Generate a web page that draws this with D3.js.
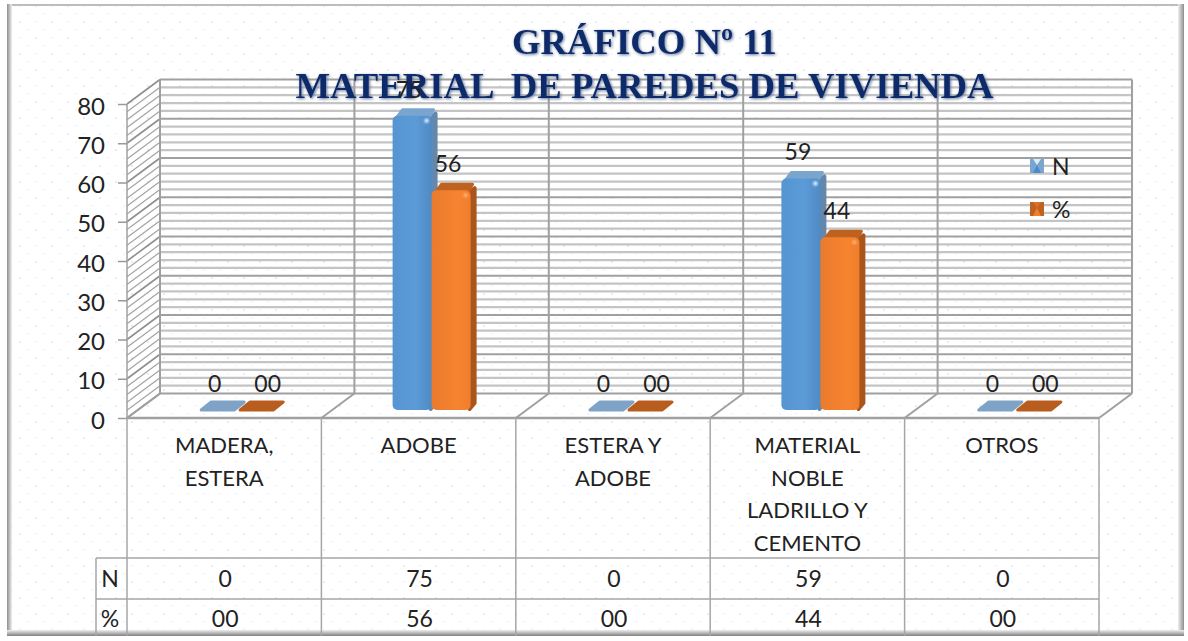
<!DOCTYPE html>
<html>
<head>
<meta charset="utf-8">
<title>Material de paredes de vivienda</title>
<script src="https://cdn.jsdelivr.net/npm/d3@7"></script>
<style>
    html, body { margin: 0; padding: 0; background: #fff; overflow: hidden; }
    text { font-family: Lato, "Open Sans", sans-serif; fill: #222; }
    .title { font-family: "Liberation Serif", serif; font-weight: bold; font-size: 36.7px; fill: #0d2a6b; }
</style>
</head>
<body>
<div id="chart"></div>
<script>
const categories = [['MADERA,', 'ESTERA'], ['ADOBE'], ['ESTERA Y', 'ADOBE'], ['MATERIAL', 'NOBLE', 'LADRILLO Y', 'CEMENTO'], ['OTROS']];
const seriesNames = ['N', '%'];
const nValues = [0, 75, 0, 59, 0];
const pctValues = [0, 56, 0, 44, 0];
const nLabels = ['0', '75', '0', '59', '0'];
const pctLabels = ['00', '56', '00', '44', '00'];
const titleLines = ['GRÁFICO Nº 11', 'MATERIAL  DE PAREDES DE VIVIENDA'];

const width = 1188, height = 641;
const svg = d3.select('#chart').append('svg').attr('width', width).attr('height', height);
const defs = svg.append('defs');

// dotted paper background
const pat = defs.append('pattern').attr('id', 'paper').attr('width', 32).attr('height', 32)
    .attr('patternUnits', 'userSpaceOnUse');
pat.append('rect').attr('width', 32).attr('height', 32).attr('fill', '#fff');
[[4, 6, 1.1], [20, 6, 0.7], [12, 14, 0.7], [28, 14, 0.7], [4, 22, 0.7], [20, 22, 1.1], [12, 30, 0.7], [28, 30, 0.7]].forEach(d => {
    pat.append('circle').attr('cx', d[0]).attr('cy', d[1]).attr('r', d[2]).attr('fill', '#dfe8f6');
});

function gradient(id, stops, x2, y2) {
    const g = defs.append('linearGradient').attr('id', id)
        .attr('x1', 0).attr('y1', 0).attr('x2', x2).attr('y2', y2);
    stops.forEach(s => g.append('stop').attr('offset', s[0]).attr('stop-color', s[1]));
}
gradient('blueFront', [[0, '#5596d2'], [0.6, '#5b9bd8'], [1, '#4f8ac4']], 1, 0);
gradient('orangeFront', [[0, '#ea7a2e'], [0.7, '#f6842f'], [1, '#ef7d2c']], 1, 0);
gradient('edgeV', [[0, '#8e8e8e'], [1, '#efefef']], 1, 0);
gradient('edgeVr', [[0, '#efefef'], [1, '#8e8e8e']], 1, 0);
gradient('edgeH', [[0, '#efefef'], [1, '#808080']], 0, 1);

const shadow = defs.append('filter').attr('id', 'titleShadow')
    .attr('x', '-5%').attr('y', '-20%').attr('width', '110%').attr('height', '140%');
shadow.append('feDropShadow').attr('dx', 1).attr('dy', 1).attr('stdDeviation', 1.6)
    .attr('flood-color', '#5f7396');
const soft = defs.append('filter').attr('id', 'soft').attr('x', '-100%').attr('y', '-100%').attr('width', '300%').attr('height', '300%');
soft.append('feGaussianBlur').attr('stdDeviation', 0.9);

const palette = {
    N: { front: 'url(#blueFront)', side: '#6488ad', top: '#79a5cf', flat: '#7ea3c6', shine: '#e4f3ff' },
    '%': { front: 'url(#orangeFront)', side: '#a9561d', top: '#c0621f', flat: '#b95d1f', shine: '#ffb070' }
};

// frame
svg.append('rect').attr('x', 8).attr('y', 5).attr('width', 1174).attr('height', 629).attr('fill', 'url(#paper)');
svg.append('rect').attr('x', 7).attr('y', 4).attr('width', 1176).attr('height', 2).attr('fill', '#bcbcbc');
svg.append('rect').attr('x', 7).attr('y', 4).attr('width', 5).attr('height', 632).attr('fill', 'url(#edgeV)');
svg.append('rect').attr('x', 1178).attr('y', 4).attr('width', 6).attr('height', 632).attr('fill', 'url(#edgeVr)');
svg.append('rect').attr('x', 7).attr('y', 630).attr('width', 1177).attr('height', 6).attr('fill', 'url(#edgeH)');

// scales: front plane of the floor and back wall
const x = d3.scaleBand().domain(d3.range(categories.length)).range([127, 1099]);
const y = d3.scaleLinear().domain([0, 80]).range([418, 104]);
const depthX = 33, depthY = 24.5;
const backY = v => y(v) - depthY;
const backX = v => v + depthX;
const barX = d3.scaleBand().domain(seriesNames).range([-39, 39]);
const barShift = 13, barLift = 8;

const major = y.ticks(8);
const minor = d3.range(0, 81, 2).filter(v => v % 10 !== 0);
const edges = d3.range(categories.length + 1).map(i => i === categories.length ? x.range()[1] : x(i));
const grid = svg.append('g').attr('fill', 'none');

// left wall + back wall gridlines
grid.selectAll('.wall-minor').data(minor).join('line')
    .attr('x1', x.range()[0]).attr('x2', backX(x.range()[0]))
    .attr('y1', d => y(d)).attr('y2', d => backY(d))
    .attr('stroke', '#a4a4a4').attr('stroke-width', 1.2);
grid.selectAll('.back-minor').data(minor).join('line')
    .attr('x1', backX(x.range()[0])).attr('x2', backX(x.range()[1]))
    .attr('y1', d => backY(d)).attr('y2', d => backY(d))
    .attr('stroke', '#c4c4c4').attr('stroke-width', 2.2);
grid.selectAll('.wall-major').data(major).join('line')
    .attr('x1', x.range()[0]).attr('x2', backX(x.range()[0]))
    .attr('y1', d => y(d)).attr('y2', d => backY(d))
    .attr('stroke', '#8f8f8f').attr('stroke-width', 1.6);
grid.selectAll('.back-major').data(major).join('line')
    .attr('x1', backX(x.range()[0])).attr('x2', backX(x.range()[1]))
    .attr('y1', d => backY(d)).attr('y2', d => backY(d))
    .attr('stroke', '#a0a0a0').attr('stroke-width', 2);

// dividers on back wall and floor
grid.selectAll('.back-div').data(edges).join('line')
    .attr('x1', d => backX(d)).attr('x2', d => backX(d))
    .attr('y1', backY(80)).attr('y2', backY(0))
    .attr('stroke', '#a0a0a0').attr('stroke-width', 2);
grid.selectAll('.floor-div').data(edges).join('line')
    .attr('x1', d => d).attr('x2', d => backX(d))
    .attr('y1', y(0)).attr('y2', backY(0))
    .attr('stroke', '#a0a0a0').attr('stroke-width', 2);
grid.append('line').attr('x1', x.range()[0]).attr('x2', x.range()[1]).attr('y1', y(0)).attr('y2', y(0))
    .attr('stroke', '#a0a0a0').attr('stroke-width', 2.5);
grid.append('line').attr('x1', x.range()[0]).attr('x2', x.range()[0]).attr('y1', y(0)).attr('y2', y(80))
    .attr('stroke', '#a0a0a0').attr('stroke-width', 1.5);

// y axis
const axis = svg.append('g').attr('transform', 'translate(' + x.range()[0] + ',0)')
    .call(d3.axisLeft(y).tickValues(major).tickSize(9).tickPadding(13));
axis.select('.domain').remove();
axis.selectAll('line').attr('stroke', '#999').attr('stroke-width', 1.5);
axis.selectAll('text').style('font-family', 'Lato, sans-serif').style('font-size', '24px').attr('fill', '#222')
    .attr('dy', '0.42em');

// bars
const rows = [
    { name: 'N', values: nValues, labels: nLabels },
    { name: '%', values: pctValues, labels: pctLabels }
];
const bars = svg.append('g');
rows.forEach(row => {
    const c = palette[row.name];
    row.values.forEach((v, i) => {
        const left = x(i) + x.bandwidth() / 2 + barShift + barX(row.name);
        const w = barX.bandwidth();
        const base = y(0) - barLift;
        const top = y(v) - barLift;
        if (v === 0) {
            // flat plate for empty categories
            const d = d3.path();
            d.moveTo(left + 3, base);
            d.lineTo(left + w - 3, base);
            d.lineTo(left + w + 7, base - 8);
            d.lineTo(left + 13, base - 8);
            d.closePath();
            bars.append('path').attr('d', d.toString()).attr('fill', c.flat)
                .attr('stroke', c.flat).attr('stroke-width', 3).attr('stroke-linejoin', 'round');
            return;
        }
        const dx = 6, dy = 6;
        const side = d3.path();
        side.moveTo(left + w - 1, top + 2);
        side.lineTo(left + w + dx - 2, top - dy + 4);
        side.lineTo(left + w + dx - 2, base - dy - 1);
        side.lineTo(left + w - 1, base - 1);
        side.closePath();
        bars.append('path').attr('d', side.toString()).attr('fill', c.side)
            .attr('stroke', c.side).attr('stroke-width', 4).attr('stroke-linejoin', 'round');
        const cap = d3.path();
        cap.moveTo(left + 4, top + 2);
        cap.lineTo(left + dx + 4, top - dy);
        cap.lineTo(left + w + dx - 4, top - dy);
        cap.lineTo(left + w - 3, top + 2);
        cap.closePath();
        bars.append('path').attr('d', cap.toString()).attr('fill', c.top)
            .attr('stroke', c.top).attr('stroke-width', 3).attr('stroke-linejoin', 'round');
        bars.append('rect').attr('x', left).attr('y', top).attr('width', w).attr('height', base - top)
            .attr('rx', 5).attr('fill', c.front);
        bars.append('circle').attr('cx', left + w - 5).attr('cy', top + 5).attr('r', 2.2)
            .attr('fill', c.shine).attr('filter', 'url(#soft)');
    });
});

// title
svg.append('g').attr('filter', 'url(#titleShadow)').selectAll('text').data(titleLines).join('text')
    .attr('class', 'title')
    .attr('x', 644.5).attr('y', (d, i) => 54 + i * 44)
    .attr('text-anchor', 'middle')
    .style('white-space', 'pre')
    .text(d => d);

// value labels above bars
rows.forEach(row => {
    svg.append('g').selectAll('text').data(row.labels).join('text')
        .attr('x', (d, i) => {
            const mid = x(i) + x.bandwidth() / 2 + barShift + barX(row.name) + barX.bandwidth() / 2;
            if (row.name === '%' && row.values[i] === 0) return mid + 11;
            return mid - 3;
        })
        .attr('y', (d, i) => y(row.values[i]) - barLift - 18)
        .attr('text-anchor', 'middle').style('font-size', '23px')
        .text(d => d);
});

// legend
const legend = svg.append('g');
seriesNames.forEach((name, i) => {
    const ly = 159 + i * 43;
    const c = palette[name];
    legend.append('rect').attr('x', 1030).attr('y', ly).attr('width', 14).attr('height', 14)
        .attr('fill', c.top);
    legend.append('path')
        .attr('d', d3.line()([[1033, ly + 14], [1037, ly + 6], [1041, ly + 14]]))
        .attr('fill', name === 'N' ? '#4a8ccb' : '#f08030');
    legend.append('path')
        .attr('d', d3.line()([[1033, ly], [1037, ly + 6], [1041, ly]]))
        .attr('fill', name === 'N' ? '#dcecf9' : '#d97226');
    legend.append('text').attr('x', 1052).attr('y', ly + 16).style('font-size', '23px').text(name);
});

// data table under the plot
const table = svg.append('g').attr('fill', 'none');
const bottom = 636, rowTop = 558, rowMid = 599, headLeft = 96;
table.selectAll('.tv').data(edges).join('line')
    .attr('x1', d => d).attr('x2', d => d).attr('y1', y(0)).attr('y2', bottom)
    .attr('stroke', '#a6a6a6').attr('stroke-width', 1.5);
table.append('line').attr('x1', headLeft).attr('x2', headLeft).attr('y1', rowTop).attr('y2', bottom)
    .attr('stroke', '#a6a6a6').attr('stroke-width', 1.5);
[rowTop, rowMid].forEach(ry => {
    table.append('line').attr('x1', headLeft).attr('x2', x.range()[1]).attr('y1', ry).attr('y2', ry)
        .attr('stroke', '#a6a6a6').attr('stroke-width', 1.5);
});

const catGroup = svg.append('g');
categories.forEach((lines, i) => {
    catGroup.selectAll(null).data(lines).join('text')
        .attr('x', x(i) + x.bandwidth() / 2)
        .attr('y', (d, j) => 453 + j * 32.7)
        .attr('text-anchor', 'middle').style('font-size', '22px')
        .text(d => d);
});
rows.forEach((row, r) => {
    const ty = 587 + r * 40;
    svg.append('text').attr('x', 110).attr('y', ty).attr('text-anchor', 'middle').style('font-size', '23px').text(row.name);
    svg.append('g').selectAll('text').data(row.labels).join('text')
        .attr('x', (d, i) => x(i) + x.bandwidth() / 2 + 1)
        .attr('y', ty).attr('text-anchor', 'middle').style('font-size', '23px')
        .text(d => d);
});
</script>
</body>
</html>
